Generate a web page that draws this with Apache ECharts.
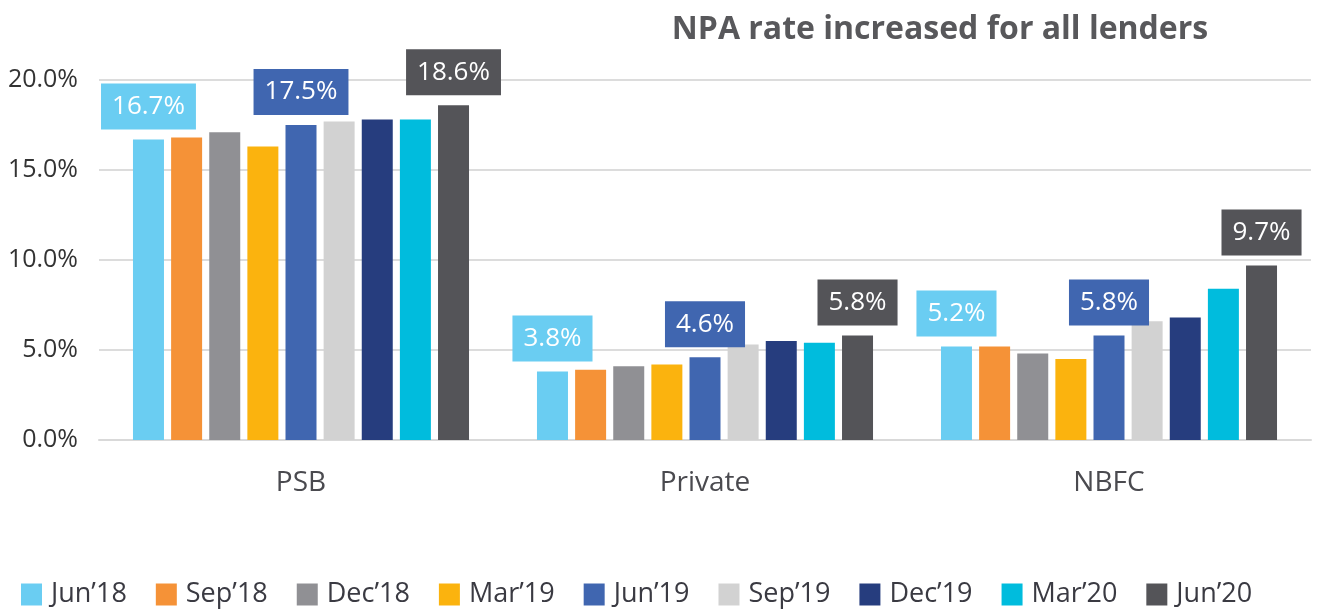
<!DOCTYPE html>
<html>
<head>
<meta charset="utf-8">
<title>NPA rate</title>
<script src="https://cdn.jsdelivr.net/npm/echarts@6/dist/echarts.min.js"></script>
<style>
  html, body { margin: 0; padding: 0; background: #fff; }
  #chart { width: 1325px; height: 612px; }
</style>
</head>
<body>
<div id="chart"></div>
<script>
// lender groups on the x axis
var lenders = ['PSB', 'Private', 'NBFC'];

// one list per quarter: PSB, Private, NBFC (%)
var quarters = ['Jun\u201918', 'Sep\u201918', 'Dec\u201918', 'Mar\u201919', 'Jun\u201919', 'Sep\u201919', 'Dec\u201919', 'Mar\u201920', 'Jun\u201920'];
var jun18 = [16.7, 3.8, 5.2];
var sep18 = [16.8, 3.9, 5.2];
var dec18 = [17.1, 4.1, 4.8];
var mar19 = [16.3, 4.2, 4.5];
var jun19 = [17.5, 4.6, 5.8];
var sep19 = [17.7, 5.3, 6.6];
var dec19 = [17.8, 5.5, 6.8];
var mar20 = [17.8, 5.4, 8.4];
var jun20 = [18.6, 5.8, 9.7];
var values = [jun18, sep18, dec18, mar19, jun19, sep19, dec19, mar20, jun20];

var colors = ['#6ACDF2', '#F59237', '#909094', '#FBB30E', '#4066B0', '#D2D2D2', '#263D7E', '#00BCDD', '#545458'];
// only these quarters carry a value box
var labelled = { 'Jun\u201918': true, 'Jun\u201919': true, 'Jun\u201920': true };

var font = '"Open Sans", "Noto Sans", sans-serif';

var series = quarters.map(function (q, i) {
  return {
    name: q,
    type: 'bar',
    data: values[i],
    barWidth: 31,
    barGap: '23%',
    itemStyle: { color: colors[i] },
    label: {
      show: !!labelled[q],
      position: 'top',
      distance: 10,
      formatter: function (p) { return p.value.toFixed(1) + '%'; },
      color: '#fff',
      fontFamily: font,
      fontSize: 26,
      lineHeight: 30,
      backgroundColor: colors[i],
      padding: [8, 11, 8, 11]
    }
  };
});

var chart = echarts.init(document.getElementById('chart'));
chart.setOption({
  animation: false,
  color: colors,
  title: {
    text: 'NPA rate increased for all lenders',
    left: 935,
    textAlign: 'center',
    top: 9,
    textStyle: { fontFamily: font, fontSize: 32, fontWeight: 'bold', color: '#58585b' }
  },
  legend: {
    data: quarters,
    left: 21,
    top: 581,
    padding: 0,
    itemWidth: 21,
    itemHeight: 22,
    itemGap: 29,
    icon: 'rect',
    textStyle: { fontFamily: font, fontSize: 27, color: '#3a3a42', padding: [0, 0, 0, 4] }
  },
  grid: { left: 99, right: 14, top: 80, bottom: 172 },
  xAxis: {
    type: 'category',
    data: lenders,
    axisLine: { show: true, lineStyle: { color: '#d9d9d9', width: 2 } },
    axisTick: { show: false },
    axisLabel: { margin: 29, fontFamily: font, fontSize: 28, color: '#4a4a4f' }
  },
  yAxis: {
    type: 'value',
    min: 0,
    max: 20,
    interval: 5,
    axisLine: { show: false },
    axisTick: { show: false },
    splitLine: { lineStyle: { color: '#dcdcdc', width: 2 } },
    axisLabel: {
      margin: 21,
      fontFamily: font,
      fontSize: 25,
      color: '#333',
      formatter: function (v) { return v.toFixed(1) + '%'; }
    }
  },
  series: series
});
</script>
</body>
</html>
